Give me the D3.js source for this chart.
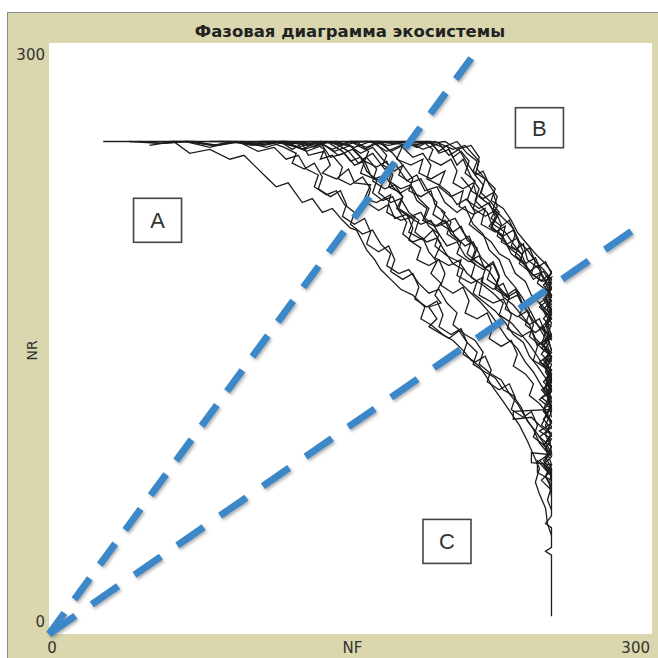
<!DOCTYPE html>
<html>
<head>
<meta charset="utf-8">
<script src="https://cdn.jsdelivr.net/npm/d3@7"></script>
<style>
  html, body { margin: 0; padding: 0; background: #fff; }
  svg { display: block; }
</style>
</head>
<body>
<svg id="chart" width="658" height="658"></svg>
<script>
const TITLE = 'Фазовая диаграмма экосистемы';
const X_LABEL = 'NF';
const Y_LABEL = 'NR';
const X_TICKS = [0, 300];
const Y_TICKS = [0, 300];

// trajectories, [NF, NR]
const t1 = [[27,250],[60,250],[95,250],[130,250],[160,250],[190,250],[194,244],[199,246],[203,238],[206,241],[210,232],[214,226],[212,220],[218,214],[221,206],[226,201],[230,193],[236,188],[241,182],[246,179],[250,181],[247,176],[250,171],[244,166],[250,160],[246,155],[250,150],[243,147],[250,141],[247,135],[250,128],[245,124],[250,118],[248,112],[250,105],[244,100],[250,95],[247,90],[250,84],[250,60],[247,56],[250,54],[250,44],[247,42],[250,40],[250,30],[250,9]];
const t2 = [[40,250],[55,249],[68,250],[80,247],[92,250],[104,248],[115,250],[126,246],[134,250],[142,245],[150,248],[156,241],[161,244],[167,236],[172,239],[178,230],[183,233],[187,225],[193,227],[197,219],[203,214],[207,217],[211,208],[216,203],[219,195],[224,190],[227,182],[232,176],[236,170],[240,163],[243,157],[247,150],[249,143],[246,137],[250,130],[248,122],[250,115]];
const t3 = [[50,248],[62,250],[70,244],[80,246],[90,241],[97,243],[103,237],[108,232],[113,227],[119,229],[126,219],[131,221],[136,214],[141,216],[146,210],[150,206],[153,205],[156,199],[158,195],[162,190],[165,185],[170,180],[175,175],[181,172],[187,166],[185,160],[190,157],[196,152],[201,149],[206,144],[210,139],[214,136],[218,130],[221,125],[226,118],[230,112],[234,106],[238,98],[241,91],[244,84],[242,77],[244,71],[247,64],[248,56],[250,50]];
const t4 = [[150,250],[165,250],[180,248],[192,250],[201,246],[207,248],[214,240],[212,233],[216,228],[214,222],[219,218],[223,212],[219,207],[225,203],[229,196],[234,192],[238,185],[241,180],[245,183],[249,176],[247,170],[250,164],[248,158],[250,151]];
const t5 = [[60,250],[72,250],[84,248],[96,250],[108,247],[118,250],[128,245],[136,248],[140,242],[147,244],[152,238],[157,240],[160,233],[166,229],[164,224],[170,219],[175,221],[179,214],[184,210],[182,204],[188,199],[193,201],[197,194],[201,188],[206,185],[204,179],[210,173],[215,168],[220,162],[224,156],[228,150],[233,145],[237,138],[241,133],[245,126],[249,121],[246,114],[250,108],[247,101],[250,95]];
const t6 = [[85,250],[100,249],[112,250],[124,247],[133,250],[141,246],[148,249],[155,244],[161,247],[166,241],[171,236],[169,230],[175,226],[180,228],[184,221],[189,216],[187,211],[193,207],[198,209],[202,202],[207,197],[211,199],[215,191],[220,186],[218,180],[224,176],[229,170],[233,172],[237,165],[241,159],[246,154],[249,148],[245,142],[250,137],[248,130],[250,124]];
const t7 = [[105,250],[118,250],[130,249],[143,250],[152,247],[160,250],[168,245],[175,248],[181,242],[186,244],[190,238],[188,231],[194,228],[199,224],[203,218],[208,221],[212,214],[209,208],[215,203],[220,199],[224,193],[229,190],[232,183],[237,179],[240,172],[244,168],[247,162],[250,158],[248,151],[250,144]];
const t8 = [[120,250],[133,248],[141,250],[149,245],[154,239],[158,242],[163,236],[161,230],[167,226],[172,228],[176,222],[174,216],[180,212],[185,214],[189,207],[194,203],[192,197],[198,192],[204,189],[208,183],[213,179],[211,173],[217,168],[222,164],[227,158],[231,152],[236,148],[239,141],[243,136],[247,130],[250,126],[248,119],[250,113],[247,106],[250,100]];
const t9 = [[135,250],[146,249],[158,250],[169,248],[178,250],[186,246],[194,249],[199,243],[204,246],[208,239],[212,233],[216,235],[219,228],[223,222],[221,216],[226,211],[231,206],[234,199],[238,195],[242,189],[246,185],[250,180],[248,173],[250,167]];
const t10 = [[150,250],[158,247],[164,250],[171,244],[176,238],[174,233],[180,229],[185,231],[189,224],[193,219],[191,213],[197,209],[202,211],[206,204],[210,199],[208,193],[214,188],[219,184],[223,178],[226,171],[231,167],[235,162],[239,157],[242,150],[246,146],[250,140],[247,133],[250,128],[248,121],[250,115],[246,109],[250,104]];
const t11 = [[70,250],[82,248],[94,250],[104,245],[112,247],[118,241],[124,243],[128,236],[134,233],[132,227],[138,223],[143,225],[147,218],[152,214],[150,208],[156,203],[161,205],[165,198],[170,193],[168,187],[174,183],[179,185],[184,178],[189,173],[194,175],[198,168],[203,163],[201,157],[207,152],[212,149],[216,143],[214,137],[220,132],[225,129],[229,122],[233,117],[237,110],[241,104],[244,97],[248,92],[250,86],[247,80],[250,74]];
const t12 = [[95,250],[107,248],[116,250],[127,246],[136,249],[144,243],[151,246],[157,240],[155,234],[162,231],[167,233],[171,227],[176,222],[173,216],[179,212],[185,208],[190,210],[194,203],[198,197],[203,199],[207,192],[212,188],[210,181],[216,177],[221,173],[226,168],[224,162],[230,158],[235,152],[239,147],[243,141],[246,136],[250,132],[247,126],[250,120],[246,113],[250,108]];
const t13 = [[170,250],[180,249],[188,250],[196,247],[203,250],[208,244],[213,240],[211,235],[217,231],[222,226],[220,220],[226,216],[230,210],[233,204],[237,199],[242,193],[246,189],[250,184],[247,178],[250,172],[248,165],[250,160]];
const t14 = [[180,250],[190,249],[197,250],[203,246],[210,248],[214,242],[213,236],[217,231],[215,224],[220,219],[224,214],[221,208],[227,204],[231,198],[235,193],[238,186],[241,182],[246,184],[250,178],[247,171],[250,166]];
const t15 = [[45,250],[57,249],[69,250],[81,248],[93,250],[105,249],[117,250],[128,248],[138,250],[146,245],[150,240],[155,242],[158,235],[163,230],[161,224],[166,220],[171,222],[174,215],[178,209],[176,203],[181,199],[186,201],[189,194],[193,189],[190,183],[195,178],[192,172],[195,168],[189,166],[193,160],[189,156],[194,153],[199,150],[204,154],[208,148],[213,143],[211,137],[217,133],[222,130],[226,124],[231,121],[235,115],[238,108],[242,103],[246,97],[249,92],[246,86],[250,80],[243,88],[243,82],[250,78]];
const t16 = [[110,250],[122,249],[131,250],[137,246],[135,241],[141,243],[146,237],[144,231],[150,228],[156,232],[160,226],[158,219],[164,215],[169,218],[172,211],[178,213],[181,206],[179,200],[185,196],[183,190],[189,187],[194,190],[197,183],[195,177],[201,173],[206,176],[209,169],[207,163],[213,160],[218,163],[221,156],[219,150],[225,146],[230,149],[233,142],[231,136],[237,132],[241,127],[239,121],[244,117],[248,112],[245,106],[250,102],[247,97],[250,92],[244,88],[249,84],[250,79]];
const t17 = [[160,250],[171,249],[177,250],[183,247],[189,250],[194,245],[198,248],[201,242],[205,245],[209,240],[207,234],[212,230],[210,225],[216,221],[221,224],[223,217],[220,211],[225,207],[229,210],[232,203],[230,197],[235,193],[239,196],[242,189],[240,183],[245,179],[248,182],[250,175],[246,170],[250,163],[247,158],[250,152],[245,148],[249,143],[250,138]];
const t18 = [[125,250],[132,247],[138,250],[144,248],[150,250],[157,246],[163,249],[168,243],[166,238],[172,235],[176,238],[181,231],[179,225],[185,222],[190,225],[192,218],[197,214],[195,208],[201,204],[205,207],[208,200],[213,196],[211,190],[217,186],[221,189],[224,182],[222,176],[228,172],[232,175],[235,168],[239,163],[237,157],[242,153],[246,156],[249,150],[245,145],[250,141],[246,136],[250,131],[247,125],[250,119]];
const t19 = [[175,250],[183,248],[186,250],[191,246],[189,241],[195,238],[200,241],[203,235],[201,229],[206,226],[211,229],[213,222],[211,216],[217,212],[222,215],[225,208],[223,202],[228,198],[233,201],[236,194],[234,188],[239,184],[243,187],[246,180],[250,176],[247,170],[250,165],[246,160],[250,156]];
const t20 = [[80,250],[91,250],[101,248],[109,250],[117,247],[123,244],[121,239],[127,236],[132,239],[136,232],[134,226],[140,222],[145,225],[148,218],[146,212],[152,208],[157,211],[160,204],[158,198],[164,194],[169,197],[172,190],[170,184],[176,180],[181,183],[184,176],[182,170],[188,166],[193,169],[196,162],[194,156],[200,152],[205,155],[208,148],[206,142],[212,138],[217,141],[220,134],[218,128],[224,124],[229,127],[232,120],[230,114],[236,110],[240,113],[243,106],[241,100],[246,96],[249,99],[250,92],[246,88],[250,83],[245,78],[250,73]];
const t21 = [[140,250],[148,248],[153,250],[159,245],[157,240],[163,237],[168,240],[171,233],[169,227],[175,224],[180,227],[183,220],[188,216],[186,210],[192,207],[197,210],[200,203],[205,199],[203,193],[209,189],[214,192],[217,185],[215,179],[221,175],[226,178],[229,171],[227,165],[233,161],[238,164],[241,157],[239,151],[244,147],[248,150],[250,144],[246,139],[250,134],[247,129],[250,123],[244,119],[249,115],[250,110]];
const t22 = [[205,232],[210,226],[208,220],[214,216],[219,219],[222,212],[220,206],[226,202],[231,205],[234,198],[232,192],[237,188],[242,191],[245,184],[243,178],[248,174],[250,169],[246,165],[250,160],[245,156],[250,151],[246,147],[249,142],[244,138],[250,134],[247,129],[250,124],[245,120],[250,116],[247,111],[250,107],[244,103],[250,99],[247,94],[250,90],[246,86],[250,82],[249,76],[250,70]];
const t23 = [[195,215],[200,209],[198,203],[204,199],[209,202],[212,195],[210,189],[216,185],[221,188],[224,181],[222,175],[228,171],[233,174],[236,167],[234,161],[239,157],[244,160],[247,153],[245,147],[250,143],[247,138],[250,132],[246,128],[250,124],[248,118],[250,114],[231,113],[231,109],[240,110],[245,105],[250,101],[246,96],[250,91],[240,92],[240,87],[250,86],[247,80],[250,75],[248,68],[250,63]];
const t24 = [[115,250],[121,246],[126,249],[129,243],[137,245],[140,238],[136,234],[143,231],[149,236],[152,229],[160,228],[157,221],[163,219],[170,223],[168,214],[175,210],[182,212],[179,204],[186,200],[191,205],[195,198],[192,191],[199,187],[205,190],[203,182],[210,178],[216,181],[214,172],[221,168],[226,170],[230,162],[228,155],[235,151],[240,154],[243,146],[241,139],[247,135],[250,129],[246,124],[250,118]];
const t25 = [[165,250],[170,245],[176,248],[173,241],[180,238],[186,241],[184,234],[190,231],[197,235],[194,227],[200,222],[206,225],[204,217],[211,213],[217,216],[215,208],[222,204],[227,207],[225,199],[232,195],[236,198],[238,190],[243,186],[247,189],[250,183],[246,177],[250,172],[244,168],[250,162],[247,157],[250,149]];
const trajectories = [t1, t2, t3, t4, t5, t6, t7, t8, t9, t10, t11, t12, t13, t14, t15, t16, t17, t18, t19, t20, t21, t22, t23, t24, t25];

// dashed separators: end points [NF, NR] of lines from the origin
const guideEnds = [[212, 295], [292, 206]];

// region labels and their centres [NF, NR]
const regionNames = ['A', 'B', 'C'];
const regionCenters = [[54, 210], [244, 257], [198, 47]];

const W = 658, H = 658;
const plot = { left: 49, right: 652, top: 43, bottom: 634 };

const svg = d3.select('#chart');
const x = d3.scaleLinear().domain([0, 300]).range([plot.left, plot.right]);
const y = d3.scaleLinear().domain([0, 300]).range([plot.bottom, plot.top]);

const defs = svg.append('defs');
const shadow = defs.append('filter').attr('id', 'shadow')
  .attr('x', '-20%').attr('y', '-20%').attr('width', '140%').attr('height', '140%');
shadow.append('feDropShadow')
  .attr('dx', 1.5).attr('dy', 2).attr('stdDeviation', 1.6)
  .attr('flood-color', '#555').attr('flood-opacity', 0.45);
defs.append('clipPath').attr('id', 'plotclip').append('rect')
  .attr('x', plot.left).attr('y', plot.top)
  .attr('width', plot.right - plot.left).attr('height', plot.bottom - plot.top);

// frame
svg.append('rect')
  .attr('x', 7.5).attr('y', 12.5).attr('width', W).attr('height', H)
  .attr('fill', '#dad7ae').attr('stroke', '#8c8c8c').attr('stroke-width', 1);

svg.append('rect')
  .attr('x', plot.left).attr('y', plot.top)
  .attr('width', plot.right - plot.left).attr('height', plot.bottom - plot.top)
  .attr('fill', '#fff');

svg.append('text')
  .attr('x', 350).attr('y', 37)
  .attr('text-anchor', 'middle')
  .attr('font-family', 'DejaVu Sans, sans-serif')
  .attr('font-weight', 'bold').attr('font-size', 16.5)
  .attr('fill', '#222')
  .text(TITLE);

// tick labels
const tickFont = 'DejaVu Sans, sans-serif';
svg.selectAll('.ytick').data(Y_TICKS).join('text')
  .attr('class', 'ytick')
  .attr('x', plot.left - 4)
  .attr('y', d => d === 0 ? y(d) - 7 : y(d) + 17)
  .attr('text-anchor', 'end')
  .attr('font-family', tickFont).attr('font-size', 15).attr('fill', '#333')
  .text(d => d);
svg.selectAll('.xtick').data(X_TICKS).join('text')
  .attr('class', 'xtick')
  .attr('x', d => d === 0 ? x(d) + 3 : x(d) - 2)
  .attr('y', plot.bottom + 19)
  .attr('text-anchor', d => d === 0 ? 'middle' : 'end')
  .attr('font-family', tickFont).attr('font-size', 15).attr('fill', '#333')
  .text(d => d);
svg.append('text')
  .attr('x', (plot.left + plot.right) / 2 + 2).attr('y', plot.bottom + 19)
  .attr('text-anchor', 'middle')
  .attr('font-family', tickFont).attr('font-size', 15).attr('fill', '#333')
  .text(X_LABEL);
svg.append('text')
  .attr('transform', `translate(37, ${(plot.top + plot.bottom) / 2 + 12}) rotate(-90)`)
  .attr('text-anchor', 'middle')
  .attr('font-family', tickFont).attr('font-size', 14).attr('fill', '#333')
  .text(Y_LABEL);

// trajectories
const line = d3.line().x(d => x(d[0])).y(d => y(d[1]));
svg.append('g').attr('clip-path', 'url(#plotclip)')
  .selectAll('path').data(trajectories).join('path')
    .attr('d', line)
    .attr('fill', 'none')
    .attr('stroke', '#1c1c1c')
    .attr('stroke-width', 1.3)
    .attr('stroke-linejoin', 'miter');

// dashed guides
svg.append('g').attr('filter', 'url(#shadow)')
  .selectAll('line').data(guideEnds).join('line')
    .attr('x1', x(0)).attr('y1', y(0))
    .attr('x2', d => x(d[0])).attr('y2', d => y(d[1]))
    .attr('stroke', '#3b87c8')
    .attr('stroke-width', 7)
    .attr('stroke-dasharray', (d, i) => i === 0 ? '26 17' : '32 20');

// region boxes
const boxes = svg.append('g').selectAll('g').data(regionNames).join('g')
  .attr('transform', (d, i) => `translate(${x(regionCenters[i][0])}, ${y(regionCenters[i][1])})`);
boxes.append('rect')
  .attr('x', -24).attr('y', (d, i) => i === 1 ? -20 : -22)
  .attr('width', 48).attr('height', (d, i) => i === 1 ? 40 : 44)
  .attr('fill', '#fff').attr('stroke', '#444').attr('stroke-width', 1.6);
boxes.append('text')
  .attr('text-anchor', 'middle').attr('y', 8)
  .attr('font-family', 'Liberation Sans, Arial, sans-serif')
  .attr('font-size', 22).attr('fill', '#333')
  .text(d => d);
</script>
</body>
</html>
